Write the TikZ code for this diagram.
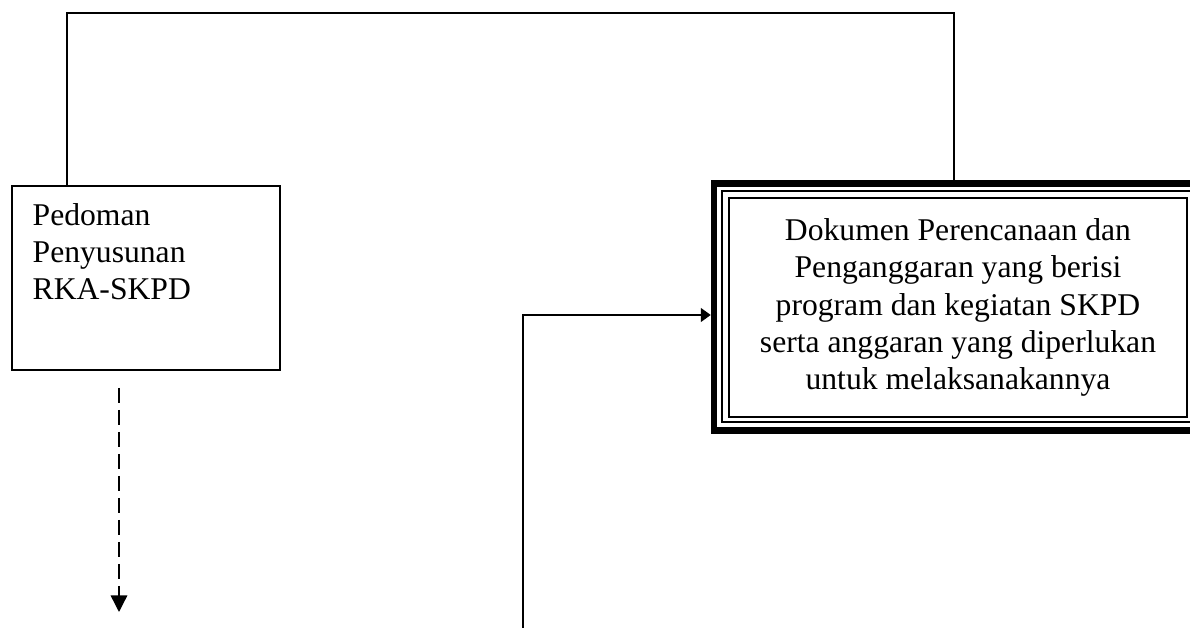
\documentclass[tikz,border=0pt]{standalone}
\usepackage{fontspec}
\setmainfont{Liberation Serif}
\usetikzlibrary{arrows.meta}

\begin{document}
\begin{tikzpicture}[line width=0.8pt, font=\fontsize{18}{21.1}\selectfont]
    \useasboundingbox (0cm,0cm) rectangle (23.8cm,12.56cm);

    \node[draw, minimum width=5.36cm, minimum height=3.68cm] (pedomanbox) at (2.92cm,7cm) {};
    \node[anchor=north west, inner sep=0pt, align=left] (pedoman) at (0.64cm,8.5cm) {Pedoman\\Penyusunan\\RKA-SKPD};

    \node[draw, line width=0.13cm, minimum width=9.74cm, minimum height=4.94cm] (bingkai) at (19.15cm,6.42cm) {};
    \node[draw, inner sep=0pt, outer sep=0pt, minimum width=9.44cm, minimum height=4.62cm] (bingkaitengah) at (19.16cm,6.43cm) {};
    \node[draw, inner sep=0pt, outer sep=0pt, minimum width=9.16cm, minimum height=4.38cm, align=center] (dokumen) at (19.16cm,6.41cm)
      {Dokumen Perencanaan dan\\Penganggaran yang berisi\\program dan kegiatan SKPD\\serta anggaran yang diperlukan\\untuk melaksanakannya};

    \coordinate (kiriatas)  at (1.34cm,12.3cm);
    \coordinate (kananatas) at (19.08cm,12.3cm);
    \draw (pedomanbox.north -| kiriatas) -- (kiriatas) -- (kananatas) -- (bingkai.north -| kananatas);

    \coordinate (bawah) at (10.46cm,-0.1cm);
    \draw[-{Triangle[length=0.2cm,width=0.28cm]}] (bawah) |- ([yshift=-0.16cm]bingkai.west);

    \coordinate (putusatas)  at (2.38cm,4.8cm);
    \coordinate (putusbawah) at (2.38cm,0.32cm);
    \draw[dash pattern=on 0.3cm off 0.14cm, -{Triangle[length=0.33cm,width=0.33cm]}] (putusatas) -- (putusbawah);
  \end{tikzpicture}
\end{document}
